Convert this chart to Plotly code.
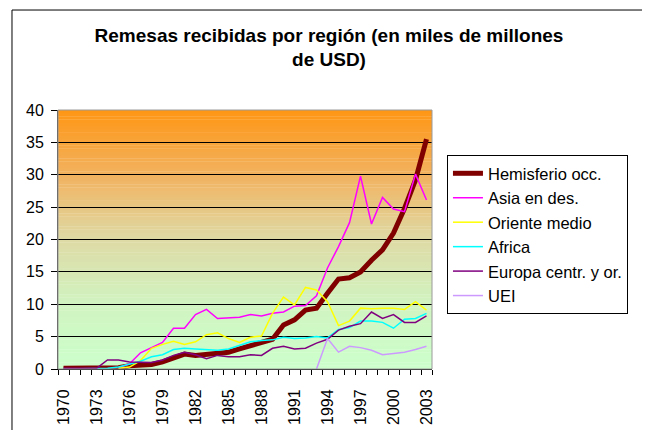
import plotly.graph_objects as go

years = list(range(1970, 2004))

hemisferio = [0.1, 0.1, 0.1, 0.1, 0.1, 0.2, 0.5, 0.6, 0.7, 1.1, 1.8, 2.3, 2.1, 2.3, 2.4, 2.6, 3.1, 3.6,
              4.0, 4.6, 6.8, 7.6, 9.1, 9.4, 11.7, 13.9, 14.1, 15.0, 16.8, 18.4, 21.0, 24.8, 29.2, 35.5]
asia = [None, None, None, None, None, 0.2, 0.8, 2.5, 3.3, 4.1, 6.3, 6.3, 8.4, 9.2, 7.8, 7.9, 8.0, 8.4,
        8.2, 8.6, 8.8, 9.7, 9.8, 11.3, 15.6, 18.9, 22.6, 29.8, 22.4, 26.5, 24.7, 24.3, 30.1, 26.1]
oriente = [None, None, None, None, None, 0.1, 0.3, 1.3, 3.2, 3.8, 4.3, 3.8, 4.2, 5.3, 5.6, 4.7, 4.1, 4.9,
           5.1, 8.6, 11.1, 9.9, 12.6, 12.2, 10.4, 6.7, 7.4, 9.4, 9.3, 9.4, 9.4, 9.2, 10.4, 9.1]
africa = [0.0, 0.0, 0.0, 0.0, 0.1, 0.3, 0.8, 1.2, 1.9, 2.2, 3.0, 3.2, 3.1, 3.0, 2.9, 3.1, 3.7, 4.2,
          4.4, 4.5, 4.9, 4.7, 4.8, 5.0, 4.8, 6.1, 6.4, 7.4, 7.4, 7.2, 6.3, 7.7, 7.8, 8.6]
europa = [0.1, 0.1, 0.1, 0.1, 1.4, 1.4, 1.1, 1.0, 1.0, 1.4, 2.1, 2.6, 2.2, 1.6, 2.1, 1.9, 1.9, 2.2,
          2.1, 3.2, 3.5, 3.1, 3.2, 4.0, 4.6, 6.0, 6.6, 7.0, 8.8, 7.8, 8.4, 7.2, 7.2, 8.2]
uei = [None] * 23 + [0.0, 4.7, 2.6, 3.5, 3.3, 2.9, 2.2, 2.4, 2.6, 3.0, 3.5]

series = [
    ("Hemisferio occ.", hemisferio, "#800000", 5),
    ("Asia en des.", asia, "#FF00FF", 1.5),
    ("Oriente medio", oriente, "#FFFF00", 1.5),
    ("Africa", africa, "#00FFFF", 1.5),
    ("Europa centr. y or.", europa, "#800080", 1.5),
    ("UEI", uei, "#CC99FF", 1.5),
]

fig = go.Figure()
for name, vals, color, w in series:
    fig.add_trace(go.Scatter(x=years, y=vals, name=name, mode="lines", legendgroup=name,
                             line=dict(color=color, width=w)))

# background gradient: orange at top to pale green at the bottom
stops = [(0, (204, 255, 204)), (10, (208, 244, 192)), (20, (222, 218, 165)),
         (30, (242, 178, 95)), (40, (255, 150, 20))]


def grad(v):
    for (a, ca), (b, cb) in zip(stops, stops[1:]):
        if a <= v <= b:
            t = (v - a) / (b - a)
            return "rgb(%d,%d,%d)" % tuple(round(ca[i] + (cb[i] - ca[i]) * t) for i in range(3))
    return "rgb(255,150,20)"


shapes = []
n = 80
for i in range(n):
    y0 = 40 * i / n
    y1 = 40 * (i + 1) / n
    shapes.append(dict(type="rect", xref="x domain", yref="y", x0=0, x1=1, y0=y0, y1=y1 + 0.05,
                       fillcolor=grad((y0 + y1) / 2), line=dict(width=0), layer="below"))
# plot area frame
shapes.append(dict(type="rect", xref="paper", yref="paper", x0=0, x1=1, y0=0, y1=1,
                   line=dict(color="#9a9a9a", width=1)))
# outer chart border (left, top, right)
bx0, bx1, by1 = -0.123, 1.5695, 1.386
for x0, y0, x1, y1 in [(bx0, -0.4, bx0, by1), (bx0, by1, bx1, by1), (bx1, by1, bx1, -0.4)]:
    shapes.append(dict(type="line", xref="paper", yref="paper", x0=x0, y0=y0, x1=x1, y1=y1,
                       line=dict(color="black", width=1)))

fig.update_layout(
    width=642, height=422,
    margin=dict(l=50, r=218, t=102, b=61, autoexpand=False),
    paper_bgcolor="white",
    plot_bgcolor="rgba(0,0,0,0)",
    font=dict(family="Arial, Liberation Sans, sans-serif", size=16, color="black"),
    title=dict(text="<b>Remesas recibidas por región (en miles de millones<br>de USD)</b>",
               x=0.50, xref="container", xanchor="center", y=0.92, yref="container", yanchor="top",
               font=dict(size=19)),
    shapes=shapes,
    showlegend=True,
    legend=dict(x=1.04, y=0.826, xanchor="left", yanchor="top", bordercolor="black", borderwidth=1,
                bgcolor="white", tracegroupgap=12, font=dict(size=16.5), traceorder="normal",
                entrywidth=150, entrywidthmode="pixels"),
)
fig.update_xaxes(range=[1969.5, 2003.5], tickvals=years[::3], ticktext=[str(y) for y in years[::3]],
                 tickangle=-90, ticks="", showgrid=False, zeroline=False, showline=True, automargin=False,
                 linecolor="black", linewidth=1, ticklabelstandoff=13, tickfont=dict(size=16),
                 minor=dict(ticks="outside", tick0=1969.5, dtick=1, ticklen=5, tickcolor="black",
                            showgrid=False))
fig.update_yaxes(range=[0, 40], dtick=5, ticks="outside", ticklen=6, tickcolor="black", automargin=False,
                 showgrid=True, gridcolor="black", gridwidth=1, zeroline=False, showline=True,
                 linecolor="#404040", linewidth=1, tickfont=dict(size=16), ticklabelstandoff=4)

fig.write_html("out.html")
